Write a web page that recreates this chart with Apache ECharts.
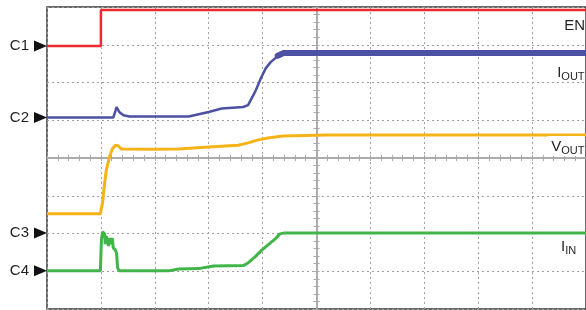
<!DOCTYPE html>
<html>
<head>
<meta charset="utf-8">
<script src="https://cdn.jsdelivr.net/npm/echarts@6/dist/echarts.min.js"></script>
<style>
  html, body { margin: 0; padding: 0; background: #fff; }
  #chart { width: 586px; height: 310px; }
</style>
</head>
<body>
<div id="chart"></div>
<script>
// ---- Data (oscilloscope screen divisions; x: -5..5, y: -4..4, centre = 0) ----
const enTrace = [[-5, 2.97], [-4.0, 2.97], [-4.0, 3.92], [5, 3.92]];

const iOutTrace = [
  [-5, 1.07], [-3.77, 1.07], [-3.73, 1.25], [-3.71, 1.35], [-3.66, 1.22],
  [-3.58, 1.13], [-3.47, 1.10], [-2.37, 1.10], [-2.0, 1.22], [-1.76, 1.31],
  [-1.36, 1.35], [-1.27, 1.40], [-1.14, 1.75], [-1.03, 2.12], [-0.94, 2.38],
  [-0.85, 2.54], [-0.72, 2.70], [-0.61, 2.78], [5, 2.78]
];
// settled (noisy, thick) part of IOUT
const iOutBand = [[-0.72, 2.71], [-0.61, 2.78], [5, 2.78]];

const vOutTrace = [
  [-5, -1.48], [-4.01, -1.48], [-3.99, -1.32], [-3.97, -1.19], [-3.93, -0.66],
  [-3.90, -0.32], [-3.84, 0.03], [-3.79, 0.24], [-3.73, 0.34], [-3.68, 0.32],
  [-3.62, 0.24], [-3.11, 0.23], [-2.56, 0.24], [-2.0, 0.29], [-1.45, 0.34],
  [-1.27, 0.40], [-1.08, 0.48], [-0.90, 0.53], [-0.63, 0.58], [0.20, 0.61], [5, 0.61]
];

const iInTrace = [
  [-5, -2.99], [-4.01, -2.99], [-3.99, -2.17], [-3.97, -1.96], [-3.93, -2.01],
  [-3.92, -2.28], [-3.90, -2.07], [-3.86, -2.33], [-3.84, -2.12], [-3.81, -2.28],
  [-3.79, -2.12], [-3.77, -2.38], [-3.73, -2.44], [-3.71, -2.52], [-3.69, -2.91],
  [-3.66, -2.99], [-2.74, -2.99], [-2.56, -2.94], [-2.19, -2.93], [-1.91, -2.86],
  [-1.36, -2.85], [-1.27, -2.78], [-1.14, -2.62], [-1.03, -2.46], [-0.90, -2.30],
  [-0.77, -2.15], [-0.68, -2.01], [-0.61, -1.99], [5, -1.99]
];

// channel reference markers (name, level in divisions)
const channelNames = ['C1', 'C2', 'C3', 'C4'];
const channelLevels = [2.97, 1.07, -1.99, -2.99];

// trace labels: main, subscript, position (divisions)
const traceMain = ['EN', 'I', 'V', 'I'];
const traceSub = ['', 'OUT', 'OUT', 'IN'];
const traceLabelPos = [[4.54, 3.52], [4.41, 2.28], [4.30, 0.32], [4.48, -2.33]];

const xRange = [-5, 5];
const yRange = [-4, 4];

// ---- Chart ----
const chart = echarts.init(document.getElementById('chart'), null, { renderer: 'canvas' });
const GRID_COL = '#a0a0a0';
const AXIS_COL = '#a8a8a8';

function centreAxis(pos, isSplit) {
  const horiz = pos === 'bottom' || pos === 'top';
  return {
    type: 'value', min: horiz ? xRange[0] : yRange[0], max: horiz ? xRange[1] : yRange[1],
    interval: 1, position: pos,
    axisLine: { show: true, onZero: true, lineStyle: { color: AXIS_COL, width: 1.5 } },
    axisTick: { show: true, inside: true, length: 3, lineStyle: { color: AXIS_COL, width: 1 } },
    minorTick: { show: true, splitNumber: 5, length: 3, lineStyle: { color: AXIS_COL, width: 1 } },
    axisLabel: { show: false },
    splitLine: { show: isSplit, lineStyle: { color: GRID_COL, width: 1, type: [2, 3] } },
    minorSplitLine: { show: false }
  };
}

chart.setOption({
  animation: false,
  backgroundColor: '#ffffff',
  grid: { left: 47, top: 7, width: 544, height: 302, show: true,
          borderColor: '#3a3a3a', borderWidth: 1.5, containLabel: false },
  xAxis: [centreAxis('bottom', true), centreAxis('top', false)],
  yAxis: [centreAxis('left', true), centreAxis('right', false)],
  series: [
    { type: 'line', data: enTrace, showSymbol: false, xAxisIndex: 0, yAxisIndex: 0,
      lineStyle: { color: '#ec2a2f', width: 2.5 }, z: 5 },
    { type: 'line', data: iOutTrace, showSymbol: false, xAxisIndex: 0, yAxisIndex: 0,
      lineStyle: { color: '#4d51a4', width: 2.5 }, z: 5 },
    { type: 'line', data: iOutBand, showSymbol: false, xAxisIndex: 0, yAxisIndex: 0,
      lineStyle: { color: '#4d51a4', width: 6, cap: 'round' }, z: 5 },
    { type: 'line', data: vOutTrace, showSymbol: false, xAxisIndex: 0, yAxisIndex: 0,
      lineStyle: { color: '#f6b318', width: 3 }, z: 5 },
    { type: 'line', data: iInTrace, showSymbol: false, xAxisIndex: 0, yAxisIndex: 0,
      lineStyle: { color: '#41b54a', width: 3 }, z: 5 }
  ]
});

// ---- annotations positioned through the axes ----
const graphics = [];
const FONT = '"Liberation Sans", Arial, sans-serif';
channelNames.forEach((name, i) => {
  const p = chart.convertToPixel({ gridIndex: 0 }, [xRange[0], channelLevels[i]]);
  const gx = p[0], gy = p[1];
  graphics.push({
    type: 'text', z: 20,
    style: { text: name, x: gx - 18, y: gy, align: 'right', verticalAlign: 'middle',
             font: '15px ' + FONT, fill: '#231f20' }
  });
  graphics.push({
    type: 'polygon', z: 20,
    shape: { points: [[gx - 13, gy - 5.5], [gx - 13, gy + 5.5], [gx, gy]] },
    style: { fill: '#111' }
  });
});
traceMain.forEach((m, i) => {
  const p = chart.convertToPixel({ gridIndex: 0 }, traceLabelPos[i]);
  const txt = traceSub[i] ? '{m|' + m + '}{s|' + traceSub[i] + '}' : '{m|' + m + '}';
  graphics.push({
    type: 'text', z: 20,
    style: {
      text: txt, x: p[0], y: p[1], align: 'left', verticalAlign: 'middle',
      backgroundColor: '#ffffff', padding: [2, 0, 2, 3],
      rich: {
        m: { font: '15px ' + FONT, fill: '#231f20', verticalAlign: 'bottom', lineHeight: 16 },
        s: { font: '11px ' + FONT, fill: '#231f20', verticalAlign: 'bottom', lineHeight: 13, padding: [0, 0, -3, 0] }
      }
    }
  });
});
chart.setOption({ graphic: graphics });
</script>
</body>
</html>
